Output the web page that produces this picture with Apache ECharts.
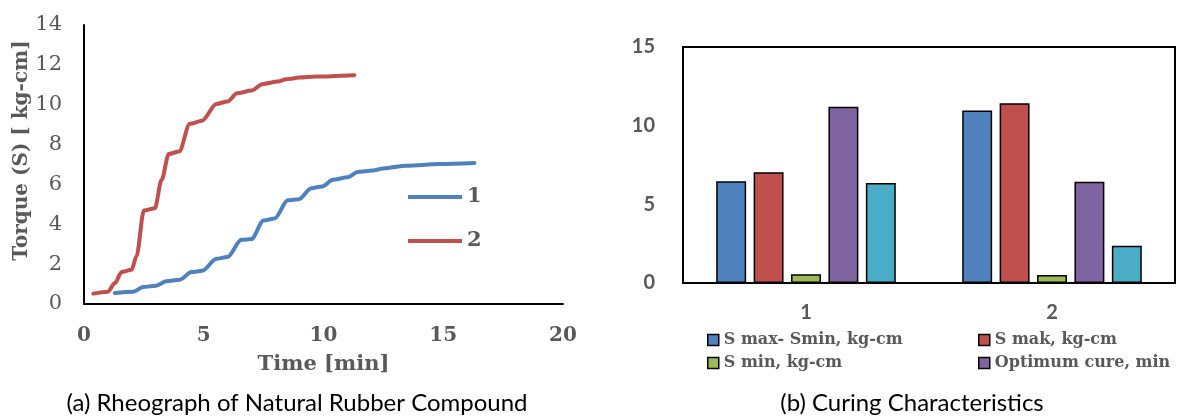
<!DOCTYPE html>
<html>
<head>
<meta charset="utf-8">
<script src="https://cdn.jsdelivr.net/npm/echarts@6/dist/echarts.min.js"></script>
<style>
html,body{margin:0;padding:0;background:#fff;}
#chart{width:1181px;height:416px;}
</style>
</head>
<body>
<div id="chart"></div>
<script>
// ---- Left chart: rheograph data ----
const time1   = [1.29,2.06,2.47,3.0,3.44,4.0,4.49,4.94,5.53,5.99,6.57,6.99,7.5,7.96,8.51,8.97,9.49,9.94,10.39,11.01,11.43,12.06,12.5,13.46,14.83,16.3];
const torque1 = [0.55,0.62,0.85,0.92,1.14,1.22,1.6,1.67,2.27,2.36,3.22,3.26,4.19,4.29,5.2,5.26,5.81,5.9,6.23,6.36,6.62,6.7,6.8,6.94,7.02,7.07];
const time2   = [0.39,1.0,1.29,1.57,1.99,2.19,2.5,2.96,3.24,3.54,3.97,4.42,4.93,5.53,5.99,6.39,6.99,7.47,8.1,8.44,9.0,9.69,11.29];
const torque2 = [0.52,0.62,1.05,1.6,1.72,2.39,4.69,4.81,6.23,7.53,7.65,9.04,9.2,10.04,10.16,10.57,10.71,11.04,11.16,11.28,11.36,11.41,11.48];
const lineNames = ['1','2'];

// ---- Right chart: curing characteristics ----
const categories = ['1','2'];
const barNames = ['S max- Smin, kg-cm','S mak, kg-cm','S min, kg-cm','Optimum cure, min','Scorch time, min'];
const smaxMinusSmin = [6.47, 10.96];
const smak = [7.04, 11.42];
const smin = [0.55, 0.51];
const optimumCure = [11.21, 6.43];
const scorch = [6.35, 2.37];

const lineColors = ['#4F81BD','#C0504D'];
const barColors = ['#4F81BD','#C0504D','#9BBB59','#8064A2','#4BACC6'];
const gray = '#595959';
const serif = 'DejaVu Serif';
const sans = 'Lato';

const pairs = (xs, ys) => xs.map((x, i) => [x, ys[i]]);
const barValues = [smaxMinusSmin, smak, smin, optimumCure, scorch];

const chart = echarts.init(document.getElementById('chart'));
chart.setOption({
  animation: false,
  backgroundColor: '#fff',
  grid: [
    {left: 84, right: 618, top: 25, bottom: 112},
    {left: 683, right: 6, top: 47, bottom: 133, show: true, borderColor: '#000', borderWidth: 2, backgroundColor: 'transparent'}
  ],
  xAxis: [
    {
      type: 'value', gridIndex: 0, min: 0, max: 20, interval: 5,
      axisLine: {lineStyle: {color: '#000', width: 2}},
      axisTick: {show: false}, splitLine: {show: false},
      axisLabel: {color: gray, fontFamily: serif, fontWeight: 'bold', fontSize: 20, margin: 22},
      name: 'Time [min]', nameLocation: 'middle', nameGap: 50,
      nameTextStyle: {color: gray, fontFamily: serif, fontWeight: 'bold', fontSize: 21}
    },
    {
      type: 'category', gridIndex: 1, data: categories,
      axisLine: {lineStyle: {color: '#000', width: 2}},
      axisTick: {show: false},
      axisLabel: {color: gray, fontFamily: sans, fontWeight: 'bold', fontSize: 20, margin: 20}
    }
  ],
  yAxis: [
    {
      type: 'value', gridIndex: 0, min: 0, max: 14, interval: 2,
      axisLine: {show: true, lineStyle: {color: '#000', width: 2}},
      axisTick: {show: false}, splitLine: {show: false},
      axisLabel: {color: gray, fontFamily: serif, fontSize: 21, margin: 22},
      name: 'Torque (S) [ kg-cm]', nameLocation: 'middle', nameGap: 52,
      nameTextStyle: {color: gray, fontFamily: serif, fontWeight: 'bold', fontSize: 20, padding: [0, 0, 0, 28]}
    },
    {
      type: 'value', gridIndex: 1, min: 0, max: 15, interval: 5,
      axisLine: {show: false}, axisTick: {show: false}, splitLine: {show: false},
      axisLabel: {color: gray, fontFamily: sans, fontWeight: 'bold', fontSize: 20, margin: 28}
    }
  ],
  legend: [
    {
      data: lineNames, orient: 'vertical', left: 403, top: 181,
      icon: 'rect', itemWidth: 54, itemHeight: 4, itemGap: 22,
      textStyle: {color: gray, fontFamily: serif, fontWeight: 'bold', fontSize: 21, lineHeight: 22}
    },
    {
      data: [barNames[0], barNames[2]], orient: 'vertical', left: 702, top: 325,
      icon: 'rect', itemWidth: 11, itemHeight: 11, itemGap: 3,
      itemStyle: {borderColor: '#000', borderWidth: 1.5},
      textStyle: {color: gray, fontFamily: serif, fontWeight: 'bold', fontSize: 16, lineHeight: 20}
    },
    {
      data: [barNames[1], barNames[3]], orient: 'vertical', left: 973, top: 325,
      icon: 'rect', itemWidth: 11, itemHeight: 11, itemGap: 3,
      itemStyle: {borderColor: '#000', borderWidth: 1.5},
      textStyle: {color: gray, fontFamily: serif, fontWeight: 'bold', fontSize: 16, lineHeight: 20}
    }
  ],
  series: [
    {
      name: lineNames[0], type: 'line', xAxisIndex: 0, yAxisIndex: 0,
      data: pairs(time1, torque1), showSymbol: false, symbol: 'none',
      smooth: 0.3, smoothMonotone: 'x',
      lineStyle: {color: lineColors[0], width: 4, cap: 'round', join: 'round'},
      itemStyle: {color: lineColors[0]}
    },
    {
      name: lineNames[1], type: 'line', xAxisIndex: 0, yAxisIndex: 0,
      data: pairs(time2, torque2), showSymbol: false, symbol: 'none',
      smooth: 0.3, smoothMonotone: 'x',
      lineStyle: {color: lineColors[1], width: 4, cap: 'round', join: 'round'},
      itemStyle: {color: lineColors[1]}
    },
    ...barNames.map((n, i) => ({
      name: n, type: 'bar', xAxisIndex: 1, yAxisIndex: 1,
      data: barValues[i],
      barGap: '25%', barCategoryGap: '27%',
      itemStyle: {color: barColors[i], borderColor: '#000', borderWidth: 1.5}
    }))
  ],
  graphic: [
    {type: 'text', left: 'center', x: 0, style: {text: ''}},
    {type: 'text', x: 297, y: 415, style: {text: '(a) Rheograph of Natural Rubber Compound', font: '24px Lato', fill: '#000', textAlign: 'center', textVerticalAlign: 'bottom'}},
    {type: 'text', x: 912, y: 415, style: {text: '(b) Curing Characteristics', font: '24px Lato', fill: '#000', textAlign: 'center', textVerticalAlign: 'bottom'}}
  ]
});
</script>
</body>
</html>
